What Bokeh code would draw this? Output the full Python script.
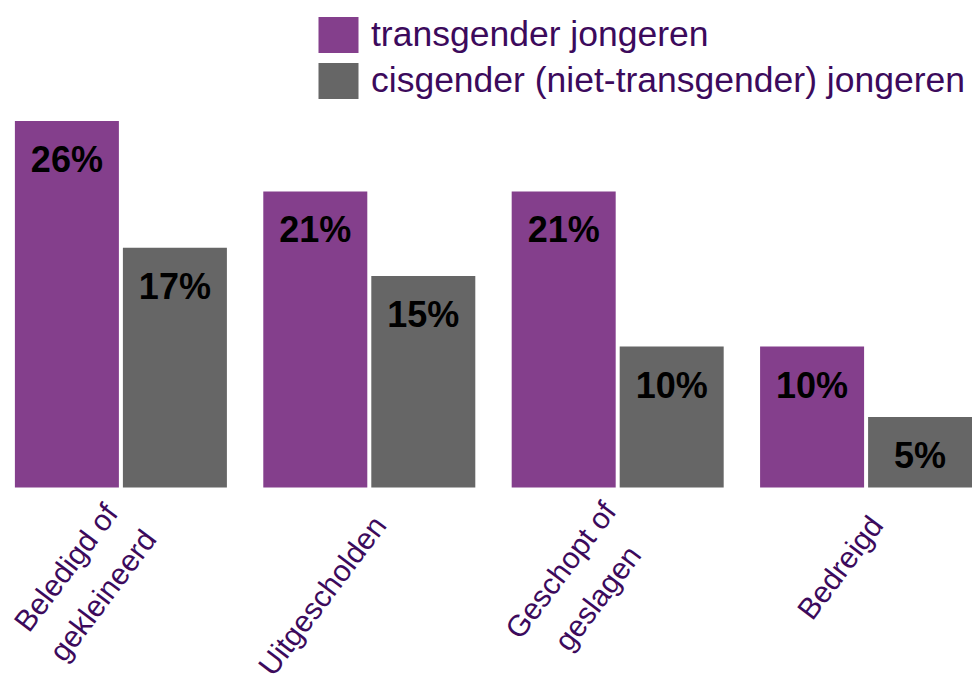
from bokeh.plotting import figure
from bokeh.models import Range1d, ColumnDataSource, Legend, LegendItem
from bokeh.transform import dodge
from bokeh.core.properties import value
from bokeh.embed import file_html
from bokeh.resources import INLINE

categories = ["Beledigd of\ngekleineerd", "Uitgescholden", "Geschopt of\ngeslagen", "Bedreigd"]
trans_values = [26, 21, 21, 10]
cis_values = [17, 15, 10, 5]
series_names = ["transgender jongeren", "cisgender (niet-transgender) jongeren"]

PURPLE = "#843f8c"
GRAY = "#666666"
TEXT = "#3c0a5c"
FONT = "Liberation Sans"

idx = list(range(len(categories)))
src_t = ColumnDataSource(dict(idx=idx, val=trans_values,
                              lbl=[f"{v}%" for v in trans_values]))
src_c = ColumnDataSource(dict(idx=idx, val=cis_values,
                              lbl=[f"{v}%" for v in cis_values]))
src_cat = ColumnDataSource(dict(idx=idx, cat=categories,
                                base=[0] * len(categories)))

# one category = 248.4 px; value 0 sits at y=487 px, leaving room below for labels
p = figure(x_range=Range1d(-0.4847, 3.4284), y_range=Range1d(-14.68, 34.54),
           width=972, height=694,
           output_backend="svg", toolbar_location=None, y_axis_location=None,
           x_axis_location=None,
           min_border_left=0, min_border_right=0, min_border_top=0,
           min_border_bottom=0)
p.outline_line_color = None
p.xgrid.grid_line_color = None
p.ygrid.grid_line_color = None
p.background_fill_color = "white"

off = 0.2174
bw = 0.4187
r1 = p.vbar(x=dodge("idx", -off), top="val", bottom=0, width=bw,
            source=src_t, fill_color=PURPLE, line_color=None)
r2 = p.vbar(x=dodge("idx", off), top="val", bottom=0, width=bw,
            source=src_c, fill_color=GRAY, line_color=None)

for src, o in ((src_t, -off), (src_c, off)):
    p.text(x=dodge("idx", o), y="val", text="lbl", source=src,
           text_align="center", text_baseline="top", y_offset=18,
           text_font=value(FONT), text_font_style="bold",
           text_font_size="36px", text_color="black")

# category labels below the bars (rotated, like the reference)
p.text(x="idx", y="base", text="cat", source=src_cat,
       angle=0.925, anchor="center_right", text_align="center",
       text_baseline="middle", x_offset=10, y_offset=32,
       text_font=value(FONT), text_font_size="30px",
       text_color=TEXT, text_line_height=1.4)

legend = Legend(items=[LegendItem(label=series_names[0], renderers=[r1]),
                       LegendItem(label=series_names[1], renderers=[r2])],
                location=(313, 591))
legend.glyph_width = 50
legend.glyph_height = 45
legend.label_height = 45
legend.label_standoff = 8
legend.spacing = 1
legend.padding = 0
legend.margin = 0
legend.border_line_color = None
legend.background_fill_alpha = 0
legend.label_text_font = FONT
legend.label_text_font_size = "35.5px"
legend.label_text_color = TEXT
legend.label_text_baseline = "middle"
p.add_layout(legend, "center")

open("out.html", "w").write(file_html(p, INLINE))
